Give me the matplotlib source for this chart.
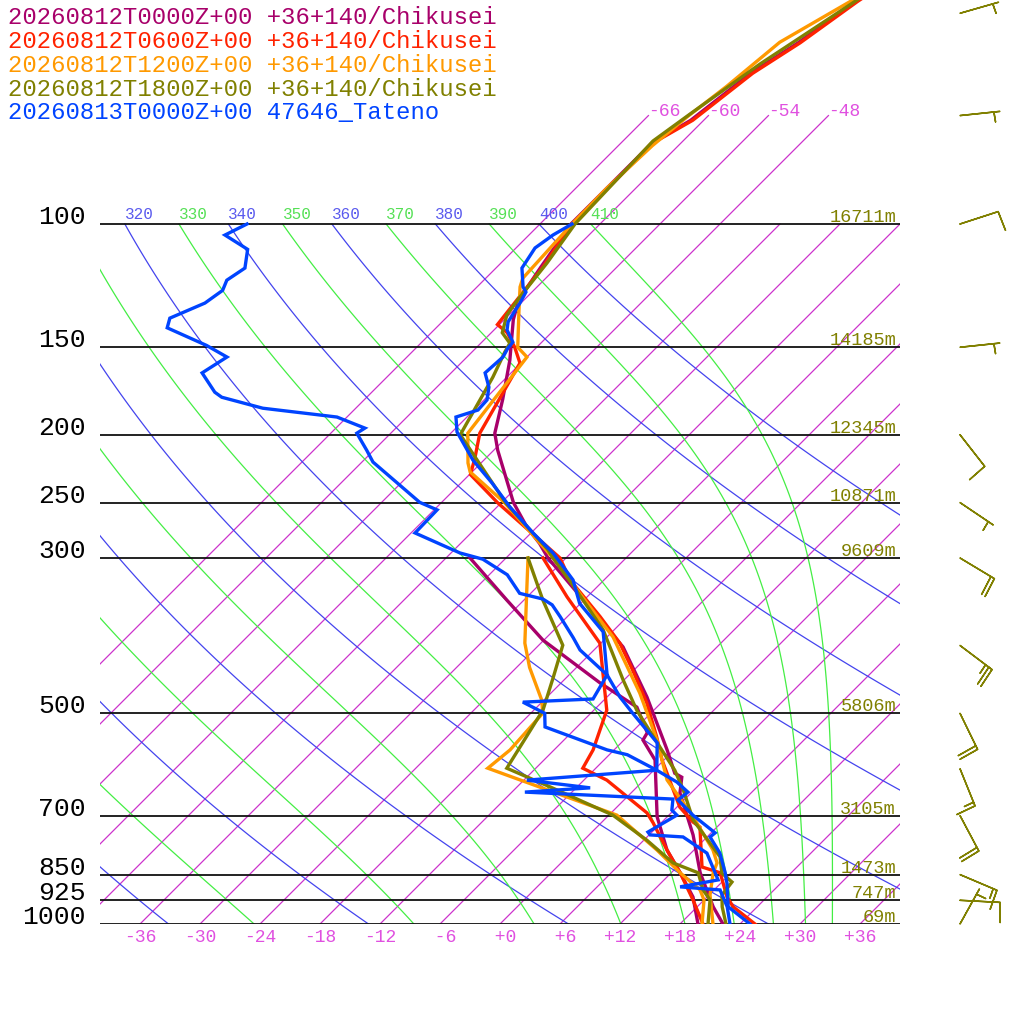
import numpy as np
import matplotlib
matplotlib.use('Agg')
import matplotlib.pyplot as plt

# ---------------------------------------------------------------
# Soundings: pressure (hPa) and temperature / dew point (degC)
# ---------------------------------------------------------------
titles = ['20260812T0000Z+00 +36+140/Chikusei',
          '20260812T0600Z+00 +36+140/Chikusei',
          '20260812T1200Z+00 +36+140/Chikusei',
          '20260812T1800Z+00 +36+140/Chikusei',
          '20260813T0000Z+00 47646_Tateno']
colors = ['#a8006a', '#ff2200', '#ff9900', '#808000', '#0044ff']

# 0000Z
p_t0 = [1000, 945, 845, 746, 650, 617, 609, 564, 474, 402, 300, 286, 271, 250,
        210.5, 199, 178, 156.5, 137, 128.6, 115.3, 100, 76.6, 71.1, 60.9, 55.1, 48.1, 45]
t_t0 = [22.3, 19.6, 14.9, 10.4, 4.9, 3.5, 2.4, -0.7, -8.0, -15.4, -31.8, -34.1, -37.0, -40.8,
        -47.6, -49.6, -52.2, -55.4, -59.1, -60.5, -61.6, -62.9, -62.9, -61.3, -60.0, -58.3, -56.7, -55.7]
p_d0 = [1000, 915, 845, 784, 703, 583, 546, 533, 490, 452.5, 393, 344.6, 300]
d_d0 = [19.8, 16.6, 12.9, 9.3, 5.0, -0.9, -4.1, -4.4, -8.0, -14.1, -24.1, -31.7, -39.6]

# 0600Z
p_t1 = [1000, 945, 915, 845, 829, 727, 715, 681, 583, 541, 483.6, 434, 397, 364, 322.5, 300,
        250, 228, 216, 199, 158, 150, 143, 139.2, 128.6, 115.3, 100, 76.6, 71.1, 60.9, 55.1, 48.1, 45]
t_t1 = [25.5, 21.6, 20.0, 16.9, 14.5, 10.3, 9.1, 6.3, -0.2, -3.0, -7.4, -12.1, -16.1, -20.7, -27.4, -30.6,
        -42.4, -47.9, -49.1, -51.1, -54.1, -56.2, -58.4, -60.2, -60.7, -61.4, -62.8, -62.8, -61.1, -59.8,
        -58.1, -56.5, -55.5]
p_d1 = [1000, 924, 845, 784, 717, 694, 623, 599, 564, 495, 397, 341, 300]
d_d1 = [20.3, 16.9, 12.9, 9.3, 5.2, 3.6, -3.7, -7.3, -8.1, -10.7, -18.1, -26.0, -32.3]

# 1200Z
p_t2 = [1000, 909, 845, 818, 784, 703, 622.6, 546, 468, 389, 337, 300, 250, 226, 219.5, 199,
        161.8, 154.9, 150, 132.7, 123, 119.5, 100, 88.9, 77.3, 70.3, 63.6, 55.0, 47.6, 45]
t_t2 = [21.3, 18.1, 16.2, 15.6, 13.9, 8.6, 2.3, -2.7, -9.1, -17.4, -25.1, -31.3, -41.7, -48.2, -49.3,
        -52.3, -53.7, -54.0, -55.9, -59.5, -61.7, -62.3, -62.8, -62.9, -62.6, -62.0, -61.1, -60.2,
        -57.0, -55.9]
p_d2 = [1000, 924, 894, 845, 784, 699, 599, 564, 500, 479, 430, 397, 337, 300]
d_d2 = [20.2, 18.0, 16.6, 12.9, 8.3, 0.8, -16.8, -16.4, -16.8, -18.2, -22.7, -25.6, -30.4, -33.8]

# 1800Z
p_t3 = [1000, 945, 909, 871, 846, 802, 710, 643, 603, 551, 495, 448, 380, 328, 300, 291.6, 250,
        200, 165.5, 152.5, 148, 143, 135, 127.3, 113.7, 100, 89.4, 76.1, 69.7, 59.1, 53.4, 47.9, 45]
t_t3 = [22.6, 20.5, 19.3, 19.0, 17.1, 15.3, 8.9, 4.9, 2.1, -2.4, -7.7, -12.1, -19.1, -26.6, -31.3,
        -32.7, -41.6, -52.9, -55.4, -56.7, -57.1, -58.9, -60.2, -60.7, -61.4, -62.5, -62.7, -63.0,
        -62.0, -60.0, -58.4, -56.7, -55.9]
p_d3 = [1000, 924, 894, 845, 818, 759, 699, 637, 599, 494.6, 443, 399.7, 344.6, 300]
d_d3 = [20.8, 18.6, 16.9, 14.7, 11.2, 6.3, 0.4, -8.7, -14.9, -17.1, -19.4, -21.6, -28.1, -33.8]

# Tateno observation
p_t4 = [1000, 945, 874, 845, 792, 751, 741, 699, 665, 648, 627, 603, 551, 500, 474, 440.7, 382.5,
        348.3, 322.5, 295.1, 276.3, 253.7, 234.4, 217.4, 198.2, 188.7, 184.4, 178.4, 171.0, 163.2,
        154.9, 150.4, 147.5, 141.7, 138.0, 129.7, 125.1, 123.0, 115.6, 108.2, 103.7, 100]
t_t4 = [25.0, 21.1, 18.6, 17.4, 14.9, 12.3, 12.4, 8.4, 5.4, 5.6, 3.5, 0.3, -2.4, -7.8, -10.7, -14.2,
        -18.9, -24.1, -27.1, -31.8, -35.8, -40.7, -44.9, -49.1, -53.5, -55.1, -53.6, -53.7, -54.8,
        -56.6, -56.4, -56.8, -56.9, -58.7, -59.4, -60.1, -60.6, -61.4, -63.4, -64.1, -63.6, -62.8]
p_d4 = [1000, 945, 894, 885, 865, 792, 751, 746, 739, 699, 687.6, 663, 648, 639, 623, 603, 573,
        564, 523, 500, 482, 477, 440.7, 406, 390, 364, 350, 343.4, 337, 317, 301.2, 295.1, 276.3,
        256.1, 249.8, 218.8, 210.5, 199, 195.7, 188.7, 183.3, 176.8, 173.9, 163.2, 154.9, 149.1,
        140.7, 136.3, 129.7, 124.4, 120.3, 115.6, 108.7, 103.7, 100]
d_d4 = [23.0, 21.0, 18.6, 14.3, 17.4, 13.6, 9.6, 6.1, 5.6, 6.8, 5.8, 4.8, -10.7, -4.6, -11.7, 0.3,
        -4.2, -6.7, -15.2, -16.6, -19.9, -13.2, -14.2, -19.4, -21.3, -24.7, -26.7, -28.2, -31.1,
        -34.2, -38.2, -41.1, -47.6, -47.7, -50.2, -58.9, -60.7, -63.4, -63.1, -67.0, -75.3, -80.5,
        -81.7, -84.9, -84.0, -87.2, -92.9, -93.6, -91.6, -91.1, -91.7, -91.1, -92.7, -96.4, -95.3]

temps = [(p_t0, t_t0), (p_t1, t_t1), (p_t2, t_t2), (p_t3, t_t3), (p_t4, t_t4)]
dews = [(p_d0, d_d0), (p_d1, d_d1), (p_d2, d_d2), (p_d3, d_d3), (p_d4, d_d4)]

# winds of the 1800Z run (direction from, knots)
wind_p = [50, 70, 100, 150, 200, 250, 300, 400, 500, 600, 700, 850, 925, 1000]
wind_dir = [74, 84, 72, 84, 142, 124, 121, 127, 154, 158, 152, 113, 93, 29]
wind_spd = [5, 5, 10, 5, 10, 5, 20, 25, 20, 15, 20, 15, 10, 5]

# standard levels and heights
levels = [100, 150, 200, 250, 300, 500, 700, 850, 925, 1000]
heights = [16711, 14185, 12345, 10871, 9609, 5806, 3105, 1473, 747, 69]

isotherms = np.arange(-66, 37, 6)
iso_labelled = [-66, -60, -54, -48]
bottom_ticks = np.arange(-36, 37, 6)
thetas = np.arange(240, 401, 20)
theta_es = np.arange(250, 411, 20)

# ---------------------------------------------------------------
SKEW = 70.0          # degC per decade of pressure
P_TOP = 1000.0 / 10 ** (924 / 700.0)


def skx(t, p):
    return np.asarray(t, float) + SKEW * np.log10(1000.0 / np.asarray(p, float))


def theta_e_sat(tc, p):
    tk = tc + 273.15
    es = 6.112 * np.exp(17.67 * tc / (tc + 243.5))
    r = 0.622 * es / (p - es)
    return tk * (1000.0 / p) ** (0.2854 * (1 - 0.28 * r)) * \
        np.exp((3.376 / tk - 0.00254) * r * 1000.0 * (1 + 0.81 * r))


def moist_adiabat(the, p):
    lo = np.full_like(p, -130.0)
    hi = np.full_like(p, 40.0)
    with np.errstate(all='ignore'):
        for _ in range(60):
            mid = 0.5 * (lo + hi)
            f = theta_e_sat(mid, p)
            big = f > the
            hi = np.where(big, mid, hi)
            lo = np.where(big, lo, mid)
    return 0.5 * (lo + hi)


FONT = ['Liberation Mono', 'DejaVu Sans Mono']

fig = plt.figure(figsize=(10.24, 10.24), dpi=100)
ax = fig.add_axes([100 / 1024, 100 / 1024, 800 / 1024, 924 / 1024])
ax.set_yscale('log')
ax.set_xlim(-40, 40)
ax.set_ylim(1000, P_TOP)
ax.axis('off')

pp = np.logspace(3, 2, 120)
p_lab = 100 * 10 ** (-5 / 700)

# isotherms
for t in isotherms:
    ptop = 70 if t in iso_labelled else 100
    ax.plot(skx([t, t], [1000, ptop]), [1000, ptop], color='#cc33cc', lw=0.9, zorder=1)
    if t in iso_labelled:
        ax.text(skx(t, ptop), ptop, '%d' % t, color='#e050e0', fontsize=13,
                family=FONT, ha='left', va='baseline')

# dry adiabats
for th in thetas:
    tt = th * (pp / 1000.0) ** 0.286 - 273.15
    ax.plot(skx(tt, pp), pp, color='#4444ee', lw=0.9, zorder=1)
    x0 = skx(tt[-1], 100)
    if x0 > -40:
        ax.text(x0, p_lab, '%d' % th, color='#5a5aee', fontsize=11.5,
                family=FONT, ha='left', va='baseline')

# moist adiabats
for the in theta_es:
    tt = moist_adiabat(the, pp)
    ax.plot(skx(tt, pp), pp, color='#44ee44', lw=0.9, zorder=1)
    x0 = skx(tt[-1], 100)
    if x0 > -40:
        ax.text(x0, p_lab, '%d' % the, color='#55e055', fontsize=11.5,
                family=FONT, ha='left', va='baseline')

# pressure levels
for lev, hgt in zip(levels, heights):
    ax.plot([-40, 40], [lev, lev], color='#111111', lw=1.3, zorder=2)
    ax.text(-41.4, lev, '%d' % lev, fontsize=19, family=FONT, ha='right',
            va='baseline', clip_on=False)
    ax.text(39.6, lev * 10 ** (-2 / 700), '%dm' % hgt, color='#808000', fontsize=13.4,
            family=FONT, ha='right', va='baseline')

# bottom temperature labels
for t in bottom_ticks:
    ax.text(t, 1000 * 10 ** (13 / 700), '{:+3d}'.format(t), color='#e050e0', fontsize=13,
            family=FONT, ha='center', va='center', clip_on=False)

# soundings
for (pt, tt), (pd, dd), c in zip(temps, dews, colors):
    ax.plot(skx(tt, pt), pt, color=c, lw=2.4, zorder=3, solid_joinstyle='miter')
    ax.plot(skx(dd, pd), pd, color=c, lw=2.4, zorder=3, solid_joinstyle='miter')

# wind barbs (1800Z)
wd = np.radians(wind_dir)
u = -np.array(wind_spd) * np.sin(wd)
v = -np.array(wind_spd) * np.cos(wd)
bx = np.full(len(wind_p), 46.0)
b = ax.barbs(bx, wind_p, u, v, length=7.6, color='#808000', linewidth=1.1,
             sizes=dict(spacing=0.1, height=0.5, width=0.06))
b.set_clip_on(False)

# titles
for i, (s, c) in enumerate(zip(titles, colors)):
    fig.text(8 / 1024, 1 - (17 + 24 * i) / 1024, s, color=c, fontsize=17.2,
             family=FONT, ha='left', va='center')

fig.savefig('out.png', dpi=100)
